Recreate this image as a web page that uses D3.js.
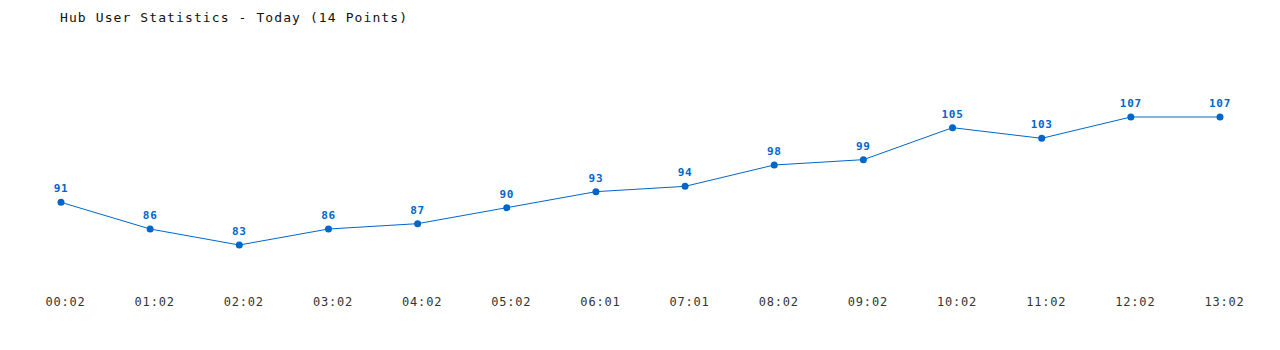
<!DOCTYPE html>
<html lang="en">
<head>
<meta charset="UTF-8">
<title>Hub User Statistics</title>
<script src="https://d3js.org/d3.v7.min.js"></script>
<style>
    body { margin: 0; background: #fff; }
    text { font-family: "DejaVu Sans Mono", monospace; }
    .title { font-size: 13px; letter-spacing: 1.1px; fill: #111; }
    .tick-label { font-size: 12px; letter-spacing: 0.8px; fill: #333; }
    .val { font-size: 11px; font-weight: bold; letter-spacing: 0.7px; fill: #0066cc; }
    .line { fill: none; stroke: #0066cc; stroke-width: 1px; }
    .dot { fill: #0066cc; }
</style>
</head>
<body>
<svg width="1280" height="350"></svg>
<script>
const times = ["00:02", "01:02", "02:02", "03:02", "04:02", "05:02", "06:01",
               "07:01", "08:02", "09:02", "10:02", "11:02", "12:02", "13:02"];
const users = [91, 86, 83, 86, 87, 90, 93, 94, 98, 99, 105, 103, 107, 107];

const svg = d3.select("svg");

const x = d3.scalePoint()
    .domain(times)
    .range([61, 1220]);

const y = d3.scaleLinear()
    .domain([83, 107])
    .range([245, 117]);

svg.append("text")
    .attr("class", "title")
    .attr("x", 60)
    .attr("y", 22)
    .text("Hub User Statistics - Today (14 Points)");

// x axis labels only, no line; labels sit a little right of the points
const xAxis = svg.append("g")
    .attr("transform", "translate(4,290)")
    .call(d3.axisBottom(x).tickSize(0).tickPadding(0));
xAxis.select(".domain").remove();
xAxis.selectAll("text")
    .attr("class", "tick-label")
    .attr("font-family", null)
    .attr("font-size", null)
    .attr("fill", null)
    .attr("dy", "1em")
    .attr("y", 4);

const line = d3.line()
    .x((d, i) => x(times[i]))
    .y(d => y(d));

svg.append("path")
    .datum(users)
    .attr("class", "line")
    .attr("d", line);

svg.selectAll(".dot")
    .data(users)
  .enter().append("circle")
    .attr("class", "dot")
    .attr("cx", (d, i) => x(times[i]))
    .attr("cy", d => y(d))
    .attr("r", 3.5);

svg.selectAll(".val")
    .data(users)
  .enter().append("text")
    .attr("class", "val")
    .attr("x", (d, i) => x(times[i]))
    .attr("y", d => y(d) - 10)
    .attr("text-anchor", "middle")
    .text(d => d);
</script>
</body>
</html>
